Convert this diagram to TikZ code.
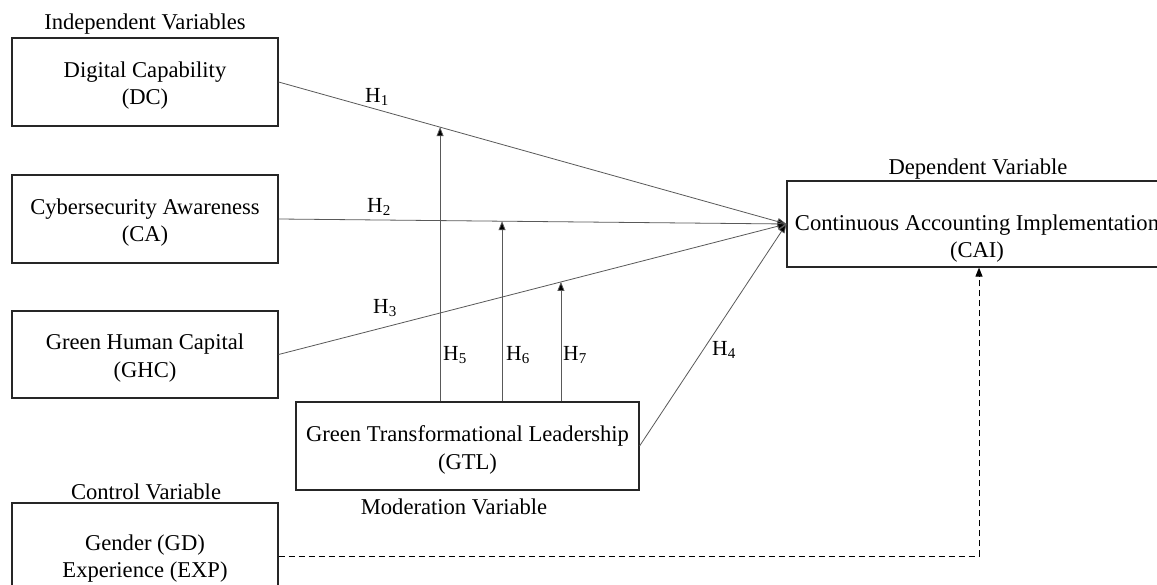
\documentclass[tikz,border=0pt]{standalone}
\usepackage{fontspec}
\setmainfont{Liberation Serif}
\usetikzlibrary{calc,arrows.meta}
\newcommand{\mytop}[1]{\rule{0pt}{#1}}
\newcommand{\mybot}{\rule[-6pt]{0pt}{6pt}}
\begin{document}
\begin{tikzpicture}[x=1pt,y=-1pt,
  every node/.style={font=\fontsize{22.6}{27.5}\selectfont},
  varbox/.style={draw=black!85,line width=1.2pt,rectangle,align=center,inner sep=0pt},
  tip/.style={-{Triangle[length=9pt,width=7pt,fill=black]}},
  hyp/.style={draw=black!65,line width=0.8pt,tip},
  lbl/.style={inner sep=0pt},
  hl/.style={inner sep=0pt,font=\fontsize{21.5}{24}\selectfont}]
\useasboundingbox (0,0) rectangle (1157,585);
\clip (0,0) rectangle (1157,585);
\fill[white] (0,0) rectangle (1157,585);
% boxes
\node[varbox,minimum width=266pt,minimum height=88pt] (DC) at (145,82) {\mytop{24pt}Digital Capability\\(DC)\mybot};
\node[varbox,minimum width=266pt,minimum height=88pt] (CA) at (145,219) {\mytop{24pt}Cybersecurity Awareness\\(CA)\mybot};
\node[varbox,minimum width=266pt,minimum height=87pt] (GHC) at (145,354.5) {\mytop{24pt}Green Human Capital\\(GHC)\mybot};
\node[varbox,minimum width=343pt,minimum height=88pt] (GTL) at (467.5,446) {\mytop{25pt}Green Transformational Leadership\\(GTL)\mybot};
\node[varbox,minimum width=266pt,minimum height=106pt] (CTRL) at (145,556) {\mytop{22pt}Gender (GD)\\Experience (EXP)\mybot};
\node[varbox,minimum width=380pt,minimum height=86pt] (CAI) at (977,224) {\mytop{46pt}Continuous Accounting Implementation\\(CAI)\mybot};
% titles
\node[lbl] (tIV) at (145,24) {Independent Variables};
\node[lbl] (tCV) at (146,492) {Control Variable};
\node[lbl] (tMV) at (454,507) {Moderation Variable};
\node[lbl] (tDV) at (978,169) {Dependent Variable};
% direct paths
\draw[hyp] (DC.east) -- (CAI.west);
\draw[hyp] (CA.east) -- (CAI.west);
\draw[hyp] (GHC.east) -- (CAI.west);
\draw[hyp] (GTL.east) -- (CAI.west);
% moderation points
\coordinate (m5) at ($(DC.east)!0.318!(CAI.west)$);
\coordinate (m6) at ($(CA.east)!0.44!(CAI.west)$);
\coordinate (m7) at ($(GHC.east)!0.556!(CAI.west)$);
\draw[hyp] (GTL.north -| m5) -- (m5);
\draw[hyp] (GTL.north -| m6) -- (m6);
\draw[hyp] (GTL.north -| m7) -- (m7);
% control
\coordinate (cc) at (979,556);
\draw[draw=black,line width=1pt,dash pattern=on 6pt off 4pt,tip] (CTRL.east) -- (cc) -- (cc |- CAI.south);
% labels
\node[hl] (h1) at (377,97) {H\textsubscript{1}};
\node[hl] (h2) at (379,207) {H\textsubscript{2}};
\node[hl] (h3) at (385,308) {H\textsubscript{3}};
\node[hl] (h4) at (724,350) {H\textsubscript{4}};
\node[hl] (h5) at (455,355) {H\textsubscript{5}};
\node[hl] (h6) at (518,355) {H\textsubscript{6}};
\node[hl] (h7) at (575,355) {H\textsubscript{7}};
\end{tikzpicture}
\end{document}
